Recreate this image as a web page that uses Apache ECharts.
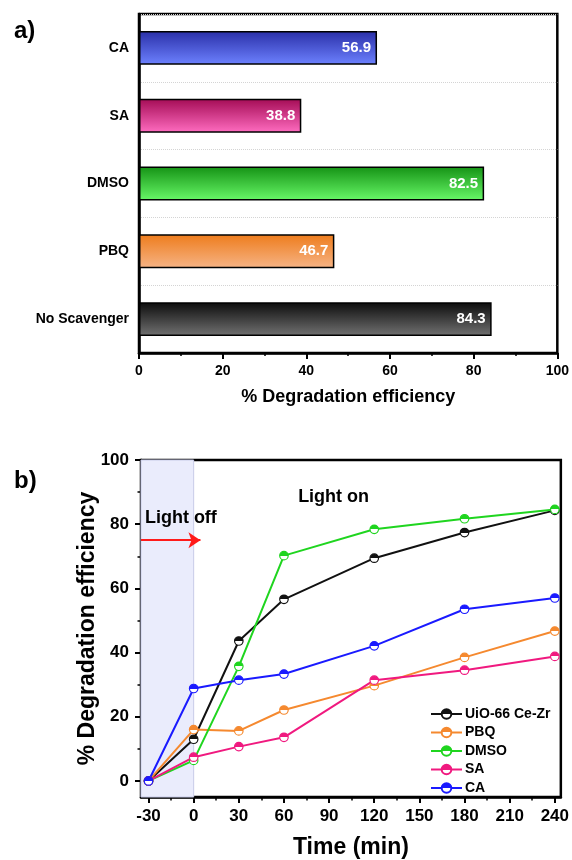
<!DOCTYPE html>
<html>
<head>
<meta charset="utf-8">
<script src="https://cdn.jsdelivr.net/npm/echarts@6/dist/echarts.min.js"></script>
<style>
html,body{margin:0;padding:0;background:#fff;}
#main{width:572px;height:860px;}
</style>
</head>
<body>
<div id="main"></div>
<script>
// ---------- data (panel a) ----------
var scavengers = ['CA', 'SA', 'DMSO', 'PBQ', 'No Scavenger'];
var efficiency = [56.9, 38.8, 82.5, 46.7, 84.3];

// ---------- data (panel b) ----------
var timeMin = [-30, 0, 30, 60, 120, 180, 240];
var seriesNames = ['UiO-66 Ce-Zr', 'PBQ', 'DMSO', 'SA', 'CA'];
var uio  = [0, 13.0, 43.6, 56.6, 69.4, 77.4, 84.3];
var pbq  = [0, 16.0, 15.6, 22.1, 29.7, 38.5, 46.7];
var dmso = [0, 6.4, 35.7, 70.2, 78.4, 81.7, 84.6];
var sa   = [0, 7.4, 10.7, 13.6, 31.4, 34.5, 38.8];
var ca   = [0, 28.8, 31.4, 33.3, 42.1, 53.5, 57.0];
var timeTicks = [-30, 0, 30, 60, 90, 120, 150, 180, 210, 240];
var timeMinorTicks = [-15, 15, 45, 75, 105, 135, 165, 195, 225];
var effTicks = [0, 20, 40, 60, 80, 100];
var effMinorTicks = [10, 30, 50, 70, 90];
var lightOffEnd = 0;          // end of dark period (min)
var arrowLevel = 75;          // arrow y value
var arrowEnd = 4.5;           // arrow tip x value
var lightOnPos = [93, 88.6];
var lightOffPos = [-8.5, 81.8];

// ---------- styles ----------
var FONT = "'Liberation Sans', Arial, Helvetica, sans-serif";
var barGrad = {
  'CA': ['#2a2fa8', '#6d82ff'],
  'SA': ['#a40c55', '#ff6cc0'],
  'DMSO': ['#159215', '#68f868'],
  'PBQ': ['#ee7c1c', '#f6b486'],
  'No Scavenger': ['#0c0c0c', '#727272']
};
var lineColors = ['#111111', '#f5892f', '#1fd51f', '#f0197f', '#1a1aff'];
var lineData = [uio, pbq, dmso, sa, ca];

function vgrad(c1, c2) {
  return new echarts.graphic.LinearGradient(0, 0, 0, 1, [
    {offset: 0, color: c1}, {offset: 1, color: c2}
  ]);
}
function halfFill(c) {
  return {
    type: 'linear', x: 0, y: 0, x2: 0, y2: 1,
    colorStops: [
      {offset: 0, color: c}, {offset: 0.5, color: c},
      {offset: 0.5, color: '#ffffff'}, {offset: 1, color: '#ffffff'}
    ]
  };
}

var chart = echarts.init(document.getElementById('main'), null, {renderer: 'canvas'});

var barData = scavengers.map(function (name, i) {
  return {
    value: efficiency[i],
    itemStyle: {color: vgrad(barGrad[name][0], barGrad[name][1])}
  };
});

var lineSeries = seriesNames.map(function (name, k) {
  return {
    name: name,
    type: 'line',
    xAxisIndex: 1,
    yAxisIndex: 1,
    z: 3,
    data: timeMin.map(function (t, i) { return [t, lineData[k][i]]; }),
    symbol: 'circle',
    symbolSize: 8.5,
    lineStyle: {color: lineColors[k], width: 2},
    itemStyle: {color: halfFill(lineColors[k]), borderColor: lineColors[k], borderWidth: 1.2},
    emphasis: {disabled: true}
  };
});

var axisLineStyle = {show: true, onZero: false, lineStyle: {color: '#000', width: 2.5}};
var labelBold = function (size, margin) {
  return {color: '#000', fontFamily: FONT, fontWeight: 'bold', fontSize: size, margin: margin};
};

var option = {
  animation: false,
  backgroundColor: '#fff',
  textStyle: {fontFamily: FONT},
  title: [
    {text: 'a)', left: 9, top: 14, textStyle: {fontFamily: FONT, fontWeight: 'bold', fontSize: 24, color: '#000'}},
    {text: 'b)', left: 9, top: 464, textStyle: {fontFamily: FONT, fontWeight: 'bold', fontSize: 24, color: '#000'}}
  ],
  grid: [
    {left: 139, right: 12.5, top: 14, height: 339, show: true, borderColor: '#000', borderWidth: 2.5, backgroundColor: 'transparent'},
    {left: 141, right: 11, top: 460, height: 340, show: true, borderColor: '#000', borderWidth: 2.5, backgroundColor: 'transparent'}
  ],
  legend: {
    data: seriesNames,
    orient: 'vertical',
    left: 425,
    top: 702,
    itemWidth: 31,
    itemHeight: 12,
    itemGap: 4.5,
    textStyle: {fontFamily: FONT, fontWeight: 'bold', fontSize: 14, color: '#000', padding: [0, 0, 0, -2]},
    selectedMode: false
  },
  xAxis: [
    {
      gridIndex: 0, type: 'value', min: 0, max: 100, interval: 20, position: 'bottom',
      axisLine: axisLineStyle,
      axisTick: {show: true, inside: false, length: 6, lineStyle: {color: '#000', width: 2}},
      minorTick: {show: true, splitNumber: 2, length: 3, lineStyle: {color: '#000', width: 1.5}},
      splitLine: {show: false},
      axisLabel: labelBold(14, 11),
      name: '% Degradation efficiency', nameLocation: 'middle', nameGap: 35,
      nameTextStyle: {fontFamily: FONT, fontWeight: 'bold', fontSize: 18, color: '#000'}
    },
    {
      gridIndex: 1, type: 'value', min: -35, max: 244, position: 'bottom',
      axisLine: axisLineStyle,
      axisTick: {show: true, inside: false, length: 6, customValues: timeTicks, lineStyle: {color: '#000', width: 2}},
      splitLine: {show: false},
      axisLabel: Object.assign(labelBold(17, 11), {customValues: timeTicks}),
      name: 'Time (min)', nameLocation: 'middle', nameGap: 39,
      nameTextStyle: {fontFamily: FONT, fontWeight: 'bold', fontSize: 23, color: '#000'}
    },
    {
      gridIndex: 1, type: 'value', min: -35, max: 244, position: 'bottom',
      axisLine: {show: false, onZero: false},
      axisTick: {show: true, inside: false, length: 3.5, customValues: timeMinorTicks, lineStyle: {color: '#000', width: 1.5}},
      splitLine: {show: false},
      axisLabel: {show: false}
    }
  ],
  yAxis: [
    {
      gridIndex: 0, type: 'category', data: scavengers, inverse: true, position: 'left',
      axisLine: axisLineStyle,
      axisTick: {show: false},
      splitLine: {show: true, lineStyle: {color: '#d4d4d4', type: 'dotted', width: 1}},
      axisLabel: labelBold(14, 10)
    },
    {
      gridIndex: 1, type: 'value', min: -5, max: 100, position: 'left',
      axisLine: axisLineStyle,
      axisTick: {show: true, inside: false, length: 6, customValues: effTicks, lineStyle: {color: '#000', width: 2}},
      splitLine: {show: false},
      axisLabel: Object.assign(labelBold(17, 12), {customValues: effTicks}),
      name: '% Degradation efficiency', nameLocation: 'middle', nameGap: 42, nameRotate: 90,
      nameMoveOverlap: false,
      nameTextStyle: {fontFamily: FONT, fontWeight: 'bold', fontSize: 23, color: '#000'}
    },
    {
      gridIndex: 1, type: 'value', min: -5, max: 100, position: 'left',
      axisLine: {show: false, onZero: false},
      axisTick: {show: true, inside: false, length: 3.5, customValues: effMinorTicks, lineStyle: {color: '#000', width: 1.5}},
      splitLine: {show: false},
      axisLabel: {show: false}
    }
  ],
  series: [
    {
      type: 'bar',
      xAxisIndex: 0, yAxisIndex: 0,
      data: barData,
      barWidth: '50%',
      itemStyle: {borderColor: '#000', borderWidth: 1.5},
      label: {
        show: true, position: 'insideRight', distance: 6,
        color: '#fff', fontFamily: FONT, fontWeight: 'bold', fontSize: 15,
        formatter: function (p) { return p.value.toFixed(1); }
      },
      emphasis: {disabled: true}
    },
    {
      type: 'line',
      xAxisIndex: 1, yAxisIndex: 1,
      z: 1,
      data: [],
      silent: true,
      markArea: {
        silent: true,
        itemStyle: {color: '#eaecfc', borderColor: '#c8cbe8', borderWidth: 1},
        data: [[{xAxis: -35}, {xAxis: lightOffEnd}]]
      },
      markLine: {
        silent: true,
        symbol: ['none', 'arrow'],
        symbolSize: 12,
        label: {show: false},
        lineStyle: {color: '#ff1a1a', width: 2, type: 'solid'},
        data: [[{coord: [-35, arrowLevel]}, {coord: [arrowEnd, arrowLevel]}]]
      },
      markPoint: {
        silent: true,
        symbol: 'rect',
        symbolSize: 1,
        itemStyle: {color: 'rgba(0,0,0,0)'},
        label: {
          show: true, position: 'inside',
          fontFamily: FONT, fontWeight: 'bold', fontSize: 18, color: '#000',
          formatter: '{b}'
        },
        data: [
          {name: 'Light on', coord: lightOnPos},
          {name: 'Light off', coord: lightOffPos}
        ]
      }
    }
  ].concat(lineSeries)
};

chart.setOption(option);
</script>
</body>
</html>
